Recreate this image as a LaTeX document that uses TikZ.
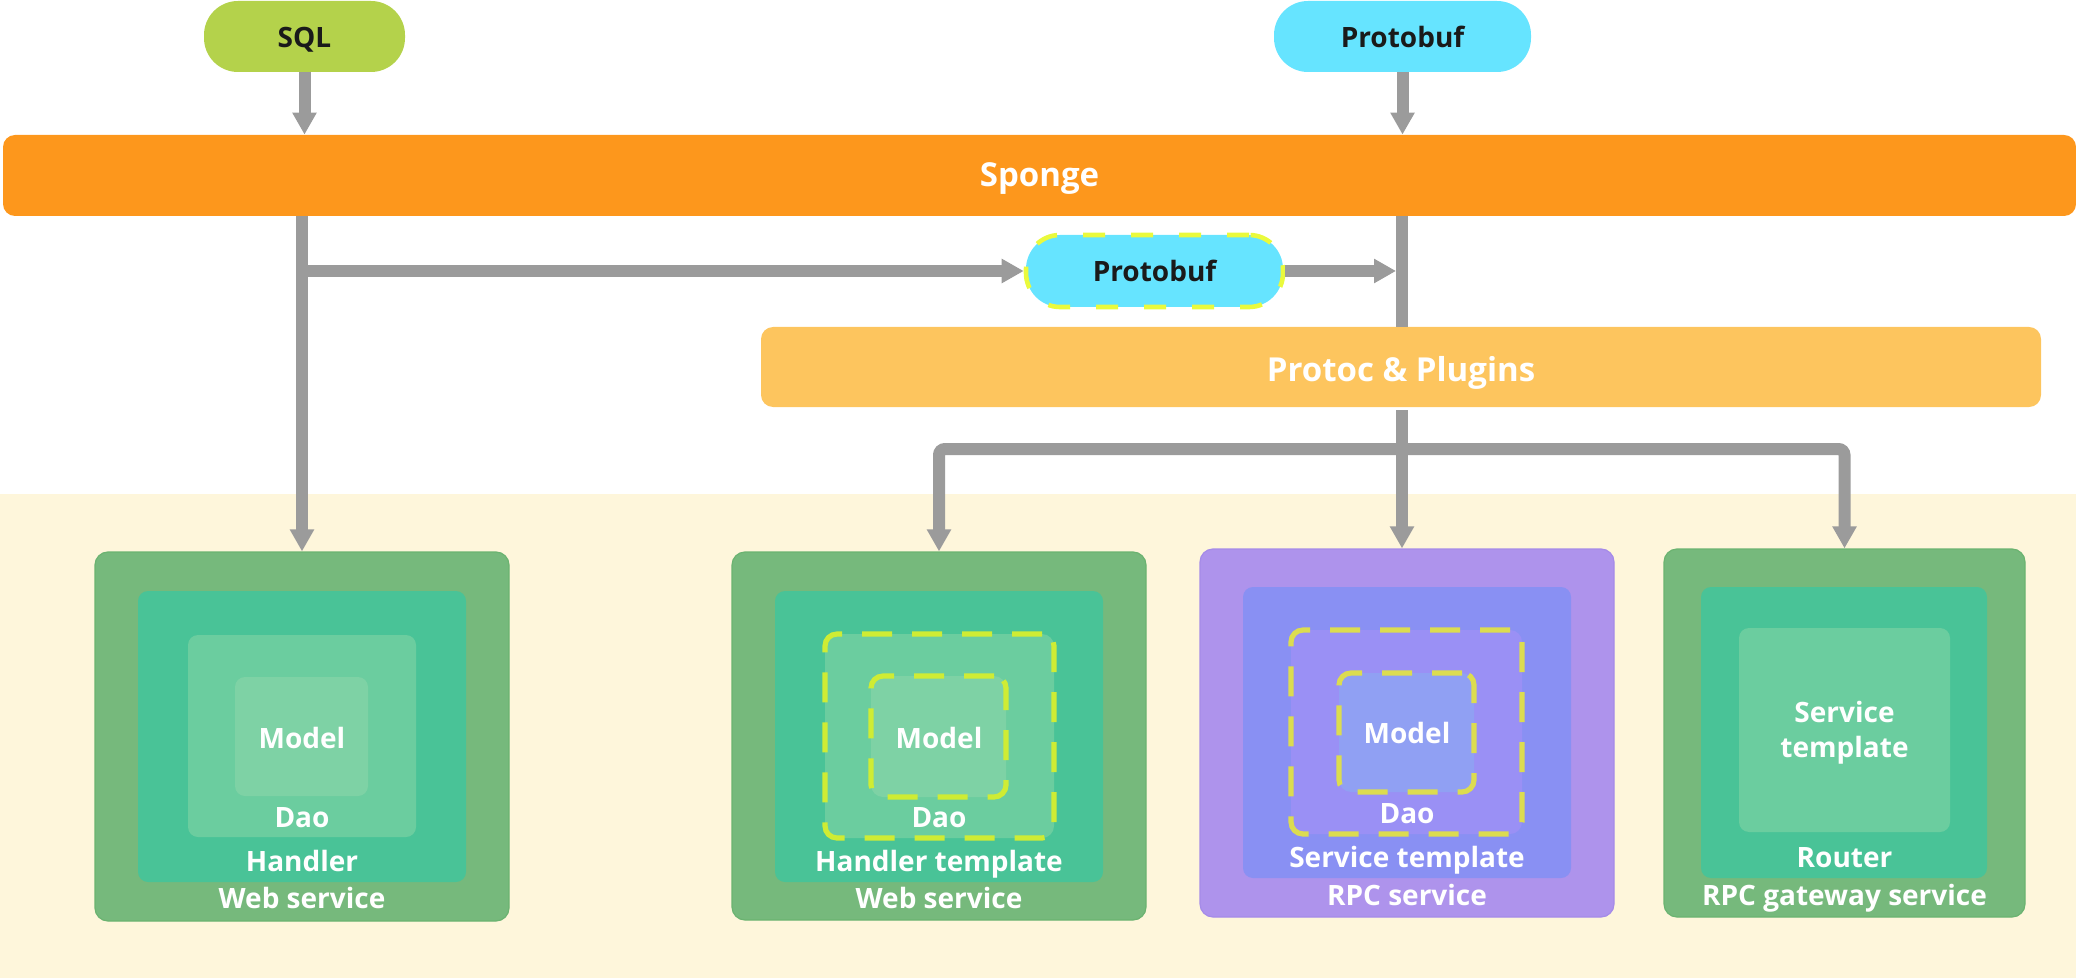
\documentclass[tikz,border=0pt]{standalone}
\usepackage{fontspec}
\setmainfont{Open Sans}
\usetikzlibrary{arrows.meta}
\definecolor{arrowgray}{HTML}{9B9B9B}
\definecolor{sqlgreen}{HTML}{B4D24B}
\definecolor{pbcyan}{HTML}{66E4FF}
\definecolor{spongeor}{HTML}{FD971C}
\definecolor{protocor}{HTML}{FDC55E}
\definecolor{bandcream}{HTML}{FEF6DB}
\definecolor{outgreen}{HTML}{76B97C}
\definecolor{outgreenb}{HTML}{6BB371}
\definecolor{handgreen}{HTML}{49C397}
\definecolor{daogreen}{HTML}{6BCD9F}
\definecolor{modgreen}{HTML}{7ED2A5}
\definecolor{outpurple}{HTML}{AE93EC}
\definecolor{outpurpleb}{HTML}{A58BE8}
\definecolor{svcblue}{HTML}{8990F3}
\definecolor{daopurple}{HTML}{9A90F5}
\definecolor{modblue}{HTML}{90A0F3}
\definecolor{dashgreen}{HTML}{CFEC34}
\definecolor{dashpurple}{HTML}{DCDC50}
\definecolor{dashpb}{HTML}{EAFA3C}
\definecolor{textblack}{HTML}{1A1A1A}
\tikzset{
  arr/.style={draw=arrowgray, line width=6pt, -{Triangle[width=11.5pt,length=11pt]}},
  ln/.style={draw=arrowgray, line width=6pt},
  pill/.style={rounded corners=17pt, inner sep=0pt, minimum height=35.5pt, minimum width=100.5pt},
  bar/.style={rounded corners=6pt, inner sep=0pt, minimum height=40.5pt},
  box/.style={rounded corners=6.5pt, inner sep=0pt},
  inbox/.style={rounded corners=5pt, inner sep=0pt},
  dashbox/.style={rounded corners=6pt, inner sep=0pt, line width=2.6pt, dash pattern=on 15pt off 10pt},
  lab/.style={font=\fontsize{14}{17}\selectfont\bfseries, text=white, inner sep=0pt, anchor=base},
  blab/.style={font=\fontsize{14}{17}\selectfont\bfseries, text=textblack, inner sep=0pt, anchor=base},
  barlab/.style={font=\fontsize{16.5}{19}\selectfont\bfseries, text=white, inner sep=0pt, anchor=base},
}
\begin{document}
\begin{tikzpicture}[x=0.5pt, y=-0.5pt]
\useasboundingbox (0,0) rectangle (2076,978);
% background band
\fill[bandcream] (0,494) rectangle (2076,978);

% top pills
\node[pill, fill=sqlgreen] (sql) at (304.5,36.5) {};
\node[blab] (sqlt) at (304.5,48) {SQL};
\node[pill, fill=pbcyan, minimum width=128.5pt] (pbtop) at (1402.5,36.5) {};
\node[blab] (pbtopt) at (1402.5,48) {Protobuf};

% bars
\node[bar, fill=spongeor, minimum width=1036.5pt] (sponge) at (1039.5,175.5) {};
\node[barlab] (sponget) at (1039.5,187) {Sponge};
\node[pill, fill=pbcyan, minimum width=128.5pt, minimum height=36pt, draw=dashpb, line width=2.3pt, dash pattern=on 11pt off 13pt] (pbmid) at (1154.5,271) {};
\node[blab] (pbmidt) at (1154.5,282) {Protobuf};
\node[bar, fill=protocor, minimum width=640pt, minimum height=40pt] (protoc) at (1401,367) {};
\node[barlab] (protoct) at (1401,382) {Protoc \& Plugins};

\coordinate (vx) at (1402,0);
\coordinate (br) at (1402,449);

% Box 1: Web service
\node[box, fill=outgreen, draw=outgreenb, line width=0.6pt, minimum width=207pt, minimum height=184.5pt] (box1) at (302,736.5) {};
\node[inbox, fill=handgreen, minimum width=164pt, minimum height=145.5pt] (hand1) at (302,736.5) {};
\node[inbox, fill=daogreen, minimum width=114pt, minimum height=101pt] (dao1) at (302,736) {};
\node[inbox, fill=modgreen, minimum width=66.5pt, minimum height=59.5pt] (mod1) at (301.5,736.5) {};
\node[lab] (mod1t) at (302,748) {Model};
\node[lab] (dao1t) at (302,827) {Dao};
\node[lab] (hand1t) at (302,871) {Handler};
\node[lab] (box1t) at (302,908) {Web service};

% Box 2: Web service (template)
\node[box, fill=outgreen, draw=outgreenb, line width=0.6pt, minimum width=207pt, minimum height=184pt] (box2) at (939,736) {};
\node[inbox, fill=handgreen, minimum width=164pt, minimum height=145.5pt] (hand2) at (939,736.5) {};
\node[dashbox, fill=daogreen, draw=dashgreen, minimum width=114.5pt, minimum height=102pt] (dao2) at (939.5,736) {};
\node[dashbox, fill=modgreen, draw=dashgreen, minimum width=67.5pt, minimum height=60.5pt] (mod2) at (938.5,736.5) {};
\node[lab] (mod2t) at (939,748) {Model};
\node[lab] (dao2t) at (939,827) {Dao};
\node[lab] (hand2t) at (939,871) {Handler template};
\node[lab] (box2t) at (939,908) {Web service};

% Box 3: RPC service
\node[box, fill=outpurple, draw=outpurpleb, line width=0.6pt, minimum width=207pt, minimum height=184pt] (box3) at (1407,733) {};
\node[inbox, fill=svcblue, minimum width=164pt, minimum height=145.5pt] (svc3) at (1407,732.5) {};
\node[dashbox, fill=daopurple, draw=dashpurple, minimum width=115.5pt, minimum height=102pt] (dao3) at (1406.5,732) {};
\node[dashbox, fill=modblue, draw=dashpurple, minimum width=67.5pt, minimum height=59.5pt] (mod3) at (1406.5,732.5) {};
\node[lab] (mod3t) at (1407,743) {Model};
\node[lab] (dao3t) at (1407,823) {Dao};
\node[lab] (svc3t) at (1407,867) {Service template};
\node[lab] (box3t) at (1407,905) {RPC service};

% Box 4: RPC gateway service
\node[box, fill=outgreen, draw=outgreenb, line width=0.6pt, minimum width=180.5pt, minimum height=184pt] (box4) at (1844.5,733) {};
\node[inbox, fill=handgreen, minimum width=143pt, minimum height=145.5pt] (rout4) at (1844,732.5) {};
\node[inbox, fill=daogreen, minimum width=105.5pt, minimum height=102pt] (svc4) at (1844.5,730) {};
\node[lab, align=center, anchor=center, font=\fontsize{14}{17.5}\selectfont\bfseries] (svc4t) at (1844.5,733) {Service\\template};
\node[lab] (rout4t) at (1844.5,867) {Router};
\node[lab] (box4t) at (1844.5,905) {RPC gateway service};

% connectors
\draw[arr] (sql.south) -- (sql.south |- sponge.north);
\draw[arr] (pbtop.south) -- (pbtop.south |- sponge.north);
\draw[arr] (box1.north |- sponge.south) -- (box1.north);
\draw[arr] (box1.north |- pbmid.west) -- (pbmid.west);
\draw[arr] (pbmid.east) -- ([xshift=-3pt]vx |- pbmid.east);
\draw[ln] (vx |- sponge.south) -- (vx |- protoc.north);
\draw[arr] ([yshift=-1.5pt]vx |- protoc.south) -- (vx |- box3.north);
\draw[arr, rounded corners=3pt] (br) -| (box2.north);
\draw[arr, rounded corners=3pt] (br) -| (box4.north);
\end{tikzpicture}
\end{document}
